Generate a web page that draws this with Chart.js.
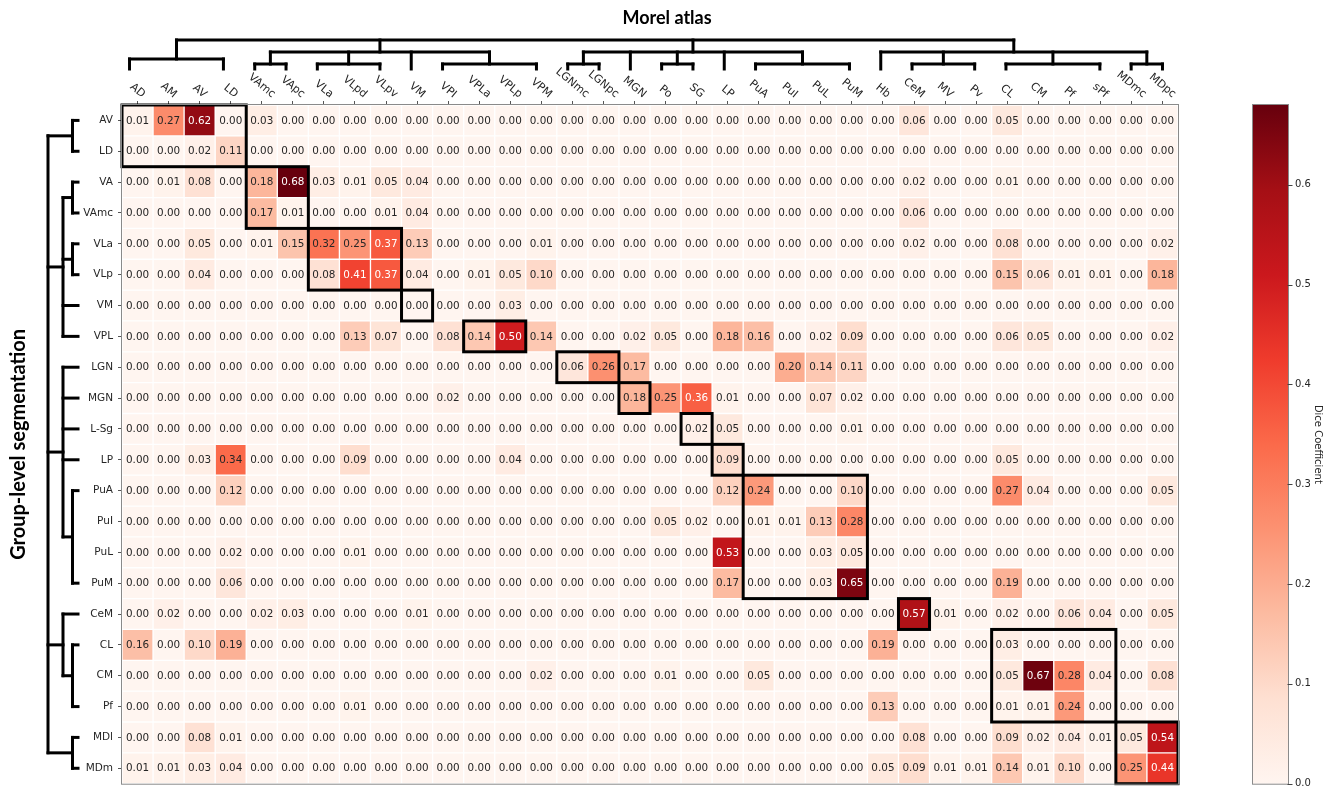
<!DOCTYPE html>
<html><head><meta charset="utf-8">
<script src="https://cdn.jsdelivr.net/npm/chart.js@4.4.0/dist/chart.umd.min.js"></script>
<style>html,body{margin:0;padding:0;background:#fff;}canvas{display:block;}</style>
</head><body>
<canvas id="c" width="1327" height="795"></canvas>
<script>
// ---- categories ----
const colLabels = ['AD','AM','AV','LD','VAmc','VApc','VLa','VLpd','VLpv','VM','VPI','VPLa','VPLp','VPM','LGNmc','LGNpc','MGN','Po','SG','LP','PuA','PuI','PuL','PuM','Hb','CeM','MV','Pv','CL','CM','Pf','sPf','MDmc','MDpc'];
const rowLabels = ['AV','LD','VA','VAmc','VLa','VLp','VM','VPL','LGN','MGN','L-Sg','LP','PuA','PuI','PuL','PuM','CeM','CL','CM','Pf','MDl','MDm'];

// ---- Dice values, one array per group-level row ----
const rAV   = [0.01,0.27,0.62,0.00, 0.03,0,0,0,0,0, 0,0,0,0, 0,0,0,0,0,0, 0,0,0,0, 0,0.06,0,0, 0.05,0,0,0, 0,0];
const rLD   = [0,0,0.02,0.11, 0,0,0,0,0,0, 0,0,0,0, 0,0,0,0,0,0, 0,0,0,0, 0,0,0,0, 0,0,0,0, 0,0];
const rVA   = [0,0.01,0.08,0, 0.18,0.68,0.03,0.01,0.05,0.04, 0,0,0,0, 0,0,0,0,0,0, 0,0,0,0, 0,0.02,0,0, 0.01,0,0,0, 0,0];
const rVAmc = [0,0,0,0, 0.17,0.01,0,0,0.01,0.04, 0,0,0,0, 0,0,0,0,0,0, 0,0,0,0, 0,0.06,0,0, 0,0,0,0, 0,0];
const rVLa  = [0,0,0.05,0, 0.01,0.15,0.32,0.25,0.37,0.13, 0,0,0,0.01, 0,0,0,0,0,0, 0,0,0,0, 0,0.02,0,0, 0.08,0,0,0, 0,0.02];
const rVLp  = [0,0,0.04,0, 0,0,0.08,0.41,0.37,0.04, 0,0.01,0.05,0.10, 0,0,0,0,0,0, 0,0,0,0, 0,0,0,0, 0.15,0.06,0.01,0.01, 0,0.18];
const rVM   = [0,0,0,0, 0,0,0,0,0,0, 0,0,0.03,0, 0,0,0,0,0,0, 0,0,0,0, 0,0,0,0, 0,0,0,0, 0,0];
const rVPL  = [0,0,0,0, 0,0,0,0.13,0.07,0, 0.08,0.14,0.50,0.14, 0,0,0.02,0.05,0,0.18, 0.16,0,0.02,0.09, 0,0,0,0, 0.06,0.05,0,0, 0,0.02];
const rLGN  = [0,0,0,0, 0,0,0,0,0,0, 0,0,0,0, 0.06,0.26,0.17,0,0,0, 0,0.20,0.14,0.11, 0,0,0,0, 0,0,0,0, 0,0];
const rMGN  = [0,0,0,0, 0,0,0,0,0,0, 0.02,0,0,0, 0,0,0.18,0.25,0.36,0.01, 0,0,0.07,0.02, 0,0,0,0, 0,0,0,0, 0,0];
const rLSg  = [0,0,0,0, 0,0,0,0,0,0, 0,0,0,0, 0,0,0,0,0.02,0.05, 0,0,0,0.01, 0,0,0,0, 0,0,0,0, 0,0];
const rLP   = [0,0,0.03,0.34, 0,0,0,0.09,0,0, 0,0,0.04,0, 0,0,0,0,0,0.09, 0,0,0,0, 0,0,0,0, 0.05,0,0,0, 0,0];
const rPuA  = [0,0,0,0.12, 0,0,0,0,0,0, 0,0,0,0, 0,0,0,0,0,0.12, 0.24,0,0,0.10, 0,0,0,0, 0.27,0.04,0,0, 0,0.05];
const rPuI  = [0,0,0,0, 0,0,0,0,0,0, 0,0,0,0, 0,0,0,0.05,0.02,0, 0.01,0.01,0.13,0.28, 0,0,0,0, 0,0,0,0, 0,0];
const rPuL  = [0,0,0,0.02, 0,0,0,0.01,0,0, 0,0,0,0, 0,0,0,0,0,0.53, 0,0,0.03,0.05, 0,0,0,0, 0,0,0,0, 0,0];
const rPuM  = [0,0,0,0.06, 0,0,0,0,0,0, 0,0,0,0, 0,0,0,0,0,0.17, 0,0,0.03,0.65, 0,0,0,0, 0.19,0,0,0, 0,0];
const rCeM  = [0,0.02,0,0, 0.02,0.03,0,0,0,0.01, 0,0,0,0, 0,0,0,0,0,0, 0,0,0,0, 0,0.57,0.01,0, 0.02,0,0.06,0.04, 0,0.05];
const rCL   = [0.16,0,0.10,0.19, 0,0,0,0,0,0, 0,0,0,0, 0,0,0,0,0,0, 0,0,0,0, 0.19,0,0,0, 0.03,0,0,0, 0,0];
const rCM   = [0,0,0,0, 0,0,0,0,0,0, 0,0,0,0.02, 0,0,0,0.01,0,0, 0.05,0,0,0, 0,0,0,0, 0.05,0.67,0.28,0.04, 0,0.08];
const rPf   = [0,0,0,0, 0,0,0,0.01,0,0, 0,0,0,0, 0,0,0,0,0,0, 0,0,0,0, 0.13,0,0,0, 0.01,0.01,0.24,0, 0,0];
const rMDl  = [0,0,0.08,0.01, 0,0,0,0,0,0, 0,0,0,0, 0,0,0,0,0,0, 0,0,0,0, 0,0.08,0,0, 0.09,0.02,0.04,0.01, 0.05,0.54];
const rMDm  = [0.01,0.01,0.03,0.04, 0,0,0,0,0,0, 0,0,0,0, 0,0,0,0,0,0, 0,0,0,0, 0.05,0.09,0.01,0.01, 0.14,0.01,0.10,0, 0.25,0.44];
const matrix = [rAV,rLD,rVA,rVAmc,rVLa,rVLp,rVM,rVPL,rLGN,rMGN,rLSg,rLP,rPuA,rPuI,rPuL,rPuM,rCeM,rCL,rCM,rPf,rMDl,rMDm];

// ---- highlighted blocks: [firstRow, lastRow, firstCol, lastCol] ----
const boxes = [[0,1,0,3],[2,3,4,5],[4,5,6,8],[6,6,9,9],[7,7,11,12],[8,8,14,15],[9,9,16,16],[10,10,18,18],[11,11,19,19],[12,15,20,23],[16,16,25,25],[17,19,28,31],[20,21,32,33]];

// ---- dendrogram groupings (index ranges) ----
const topTree  = [[[0,3]], [[4,5],[6,8],[9],[10,13]], [[14,15],[16],[17,18],[19],[20,23]], [[24],[25,27],[28,31],[32,33]]];
const leftTree = [[[0,1]], [[2,3],[4,5],[6],[7]], [[8],[9],[10],[11],[12,15]], [[16],[17,19]], [[20,21]]];

// ---- colorbar ----
const vmax = 0.68;
const cbTicks = [0.0,0.1,0.2,0.3,0.4,0.5,0.6];

const REDS = [[255,245,240],[254,224,210],[252,187,161],[252,146,114],[251,106,74],[239,59,44],[203,24,29],[165,15,21],[103,0,13]];
function reds(t){
  t = Math.max(0, Math.min(1, t));
  const p = t*8, i = Math.min(7, Math.floor(p)), f = p - i;
  const a = REDS[i], b = REDS[i+1];
  return 'rgb(' + a.map((v,k)=>Math.round(v+(b[k]-v)*f)).join(',') + ')';
}

const datasets = matrix.map((row, r) => ({
  label: rowLabels[r],
  data: row.map(() => [r, r+1]),
  backgroundColor: row.map(v => reds(v / vmax)),
  borderColor: '#ffffff',
  borderWidth: 1,
  borderSkipped: false,
  grouped: false,
  categoryPercentage: 1,
  barPercentage: 1
}));

const TXT = '#262626';

const cellText = {
  id: 'cellText',
  afterDatasetsDraw(chart){
    const ctx = chart.ctx;
    ctx.save();
    ctx.font = '10.4px "DejaVu Sans"';
    ctx.textAlign = 'center';
    ctx.textBaseline = 'middle';
    matrix.forEach((row, r) => {
      const meta = chart.getDatasetMeta(r);
      meta.data.forEach((bar, j) => {
        const p = bar.getProps(['x','y','base'], true);
        const v = row[j];
        ctx.fillStyle = v >= 0.35 ? '#ffffff' : TXT;
        ctx.fillText(v.toFixed(2), p.x, (p.y + p.base) / 2 + 0.5);
      });
    });
    // highlighted blocks
    const xs = chart.scales.x, ys = chart.scales.y;
    ctx.strokeStyle = '#000';
    ctx.lineWidth = 3;
    boxes.forEach(([r0,r1,c0,c1]) => {
      const x0 = xs.getPixelForValue(c0 - 0.5), x1 = xs.getPixelForValue(c1 + 0.5);
      const y0 = ys.getPixelForValue(r0), y1 = ys.getPixelForValue(r1 + 1);
      ctx.strokeRect(x0, y0, x1 - x0, y1 - y0);
    });
    ctx.restore();
  }
};

function drawTree(ctx, groups, pos, P, lv){
  const line = (a, b) => { ctx.beginPath(); ctx.moveTo(a[0], a[1]); ctx.lineTo(b[0], b[1]); ctx.stroke(); };
  const bracket = (a, b, d) => {
    line(P(pos(a), d), P(pos(b), d));
    line(P(pos(a), d), P(pos(a), lv.leaf));
    line(P(pos(b), d), P(pos(b), lv.leaf));
    return (pos(a) + pos(b)) / 2;
  };
  const centers = groups.map(g => {
    if (g.length === 1 && g[0].length > 1) {
      const m = bracket(g[0][0], g[0][1], lv.c1);
      line(P(m, lv.root), P(m, lv.c1));
      return m;
    }
    const cs = g.map(ch => {
      if (ch.length === 1) { line(P(pos(ch[0]), lv.grp), P(pos(ch[0]), lv.leaf)); return pos(ch[0]); }
      const m = bracket(ch[0], ch[1], lv.sub);
      line(P(m, lv.grp), P(m, lv.sub));
      return m;
    });
    line(P(cs[0], lv.grp), P(cs[cs.length-1], lv.grp));
    const m = (cs[0] + cs[cs.length-1]) / 2;
    line(P(m, lv.root), P(m, lv.grp));
    return m;
  });
  line(P(centers[0], lv.root), P(centers[centers.length-1], lv.root));
}

const decor = {
  id: 'decor',
  afterDraw(chart){
    const ctx = chart.ctx, xs = chart.scales.x, ys = chart.scales.y, ca = chart.chartArea;
    ctx.save();
    // frame
    ctx.strokeStyle = '#8a8a8a'; ctx.lineWidth = 1;
    ctx.strokeRect(ca.left - 0.5, ca.top - 0.5, ca.right - ca.left + 1, ca.bottom - ca.top + 1);

    // column labels (rotated, bbox centred on tick)
    ctx.fillStyle = TXT;
    const fs = 11;
    ctx.font = fs + 'px "DejaVu Sans"';
    ctx.textAlign = 'center';
    ctx.textBaseline = 'middle';
    const th = 40 * Math.PI / 180;
    colLabels.forEach((lab, i) => {
      const x = xs.getPixelForValue(i);
      const w = ctx.measureText(lab).width;
      const bh = w * Math.sin(th) + fs * Math.cos(th);
      ctx.save();
      ctx.translate(x, ca.top - 5 - bh / 2);
      ctx.rotate(th);
      ctx.fillText(lab, 0, 0);
      ctx.restore();
    });

    // dendrograms
    ctx.strokeStyle = '#000'; ctx.lineWidth = 3; ctx.lineCap = 'square';
    const n = colLabels.length - 1;
    drawTree(ctx, topTree, i => xs.getPixelForValue(i) - 8 + 8 * i / n, (p, d) => [p, d],
             {root: 40, grp: 52, c1: 59, sub: 64, leaf: 69});
    drawTree(ctx, leftTree, r => ys.getPixelForValue(r + 0.5), (p, d) => [d, p],
             {root: 48, grp: 63, c1: 72.5, sub: 72.5, leaf: 78});

    // titles
    ctx.fillStyle = '#000';
    ctx.font = 'bold 18px Lato';
    ctx.textAlign = 'center'; ctx.textBaseline = 'middle';
    ctx.fillText('Morel atlas', 667, 18);
    ctx.save();
    ctx.translate(19, (ca.top + ca.bottom) / 2);
    ctx.rotate(-Math.PI / 2);
    ctx.font = 'bold 20px Lato';
    ctx.fillText('Group-level segmentation', 0, 0);
    ctx.restore();

    // colorbar
    const cbL = 1253, cbR = 1288, cbT = ca.top, cbB = ca.bottom;
    const g = ctx.createLinearGradient(0, cbB, 0, cbT);
    REDS.forEach((c, k) => g.addColorStop(k / 8, 'rgb(' + c.join(',') + ')'));
    ctx.fillStyle = g;
    ctx.fillRect(cbL, cbT, cbR - cbL, cbB - cbT);
    ctx.strokeStyle = '#8a8a8a'; ctx.lineWidth = 1;
    ctx.strokeRect(cbL - 0.5, cbT - 0.5, cbR - cbL + 1, cbB - cbT + 1);
    ctx.fillStyle = TXT; ctx.strokeStyle = '#444';
    ctx.font = '10px "DejaVu Sans"';
    ctx.textAlign = 'left'; ctx.textBaseline = 'middle';
    cbTicks.forEach(v => {
      const y = cbB - (v / vmax) * (cbB - cbT);
      ctx.beginPath(); ctx.moveTo(cbR, Math.round(y) + 0.5); ctx.lineTo(cbR + 4, Math.round(y) + 0.5); ctx.stroke();
      ctx.fillText(v.toFixed(1), cbR + 7, y);
    });
    ctx.save();
    ctx.translate(1318, (cbT + cbB) / 2);
    ctx.rotate(Math.PI / 2);
    ctx.textAlign = 'center';
    ctx.fillText('Dice Coefficient', 0, 0);
    ctx.restore();
    ctx.restore();
  }
};

new Chart(document.getElementById('c').getContext('2d'), {
  type: 'bar',
  data: { labels: colLabels, datasets },
  options: {
    responsive: false,
    animation: false,
    events: [],
    plugins: { legend: { display: false }, tooltip: { enabled: false } },
    layout: { padding: { left: 0, right: 149, top: 0, bottom: 8 } },
    scales: {
      x: {
        type: 'category', position: 'top', offset: true,
        grid: { offset: false, drawOnChartArea: false, tickLength: 4, color: '#555' },
        border: { display: false },
        ticks: { display: false },
        afterFit: s => { s.height = 105; }
      },
      y: {
        type: 'linear', reverse: true, min: 0, max: 22,
        afterBuildTicks: ax => { ax.ticks = rowLabels.map((_, i) => ({ value: i + 0.5 })); },
        ticks: { autoSkip: false, padding: 5, color: TXT, font: { family: 'DejaVu Sans', size: 10.5 },
                 callback: v => rowLabels[Math.floor(v)] },
        grid: { drawOnChartArea: false, tickLength: 4, color: '#555' },
        border: { display: false },
        afterFit: s => { s.width = 122; }
      }
    }
  },
  plugins: [cellText, decor]
});
</script>
</body></html>
